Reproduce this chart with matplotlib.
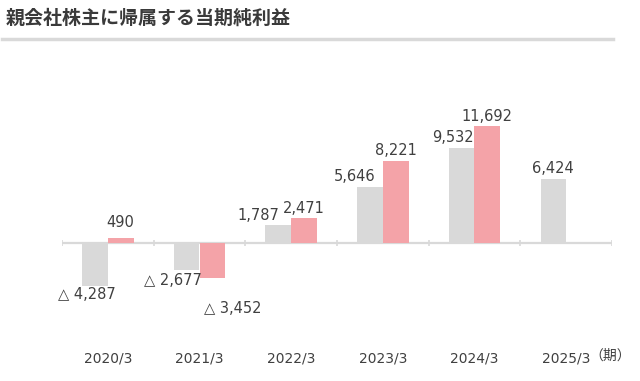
import matplotlib.pyplot as plt
import numpy as np
from matplotlib.lines import Line2D

plt.rcParams['font.family'] = ['DejaVu Sans', 'Noto Sans CJK JP']

# データ
periods = ['2020/3', '2021/3', '2022/3', '2023/3', '2024/3', '2025/3']
gray_vals = [-4287, -2677, 1787, 5646, 9532, 6424]
pink_vals = [490, -3452, 2471, 8221, 11692, np.nan]
title = '親会社株主に帰属する当期純利益'
unit_label = '（期）'

# ラベルの位置調整 (px)
gray_dx = [-8, -14, -20, -15, -9, 0]
pink_dx = [0, 20, 0, 0, 0, 0]
pink_dy = [16, 31, 10, 10, 10, 10]
gray_dy = [9, 11, 10, 10, 10, 10]

gray_c = '#d9d9d9'
pink_c = '#f4a3a8'
text_c = '#404040'

W, H = 640, 381
fig = plt.figure(figsize=(6.4, 3.81), dpi=100)
ax = fig.add_axes([62 / W, 41 / H, 550 / W, 227 / H])

x = np.arange(len(periods))
w = 0.28
ax.bar(x - w / 2, gray_vals, w, color=gray_c, zorder=2)
ax.bar(x + w / 2, pink_vals, w, color=pink_c, zorder=2)

ax.set_xlim(-0.5, len(periods) - 0.5)
ax.set_ylim(-9700, 13000)

# 基準線と区切り
ax.axhline(0, color=gray_c, lw=1.6, zorder=1)
ax.vlines(np.arange(len(periods) + 1) - 0.5, -300, 300, color=gray_c, lw=1.2, zorder=1)


def fmt(v):
    return f'△ {abs(v):,.0f}' if v < 0 else f'{v:,.0f}'


def put(xc, v, dx, dy):
    if np.isnan(v):
        return
    sign = 1 if v >= 0 else -1
    ax.annotate(fmt(v), (xc, v), xytext=(dx * 0.72, sign * dy * 0.72), textcoords='offset points',
                ha='center', va='center', fontsize=10.5, color=text_c)


for i in range(len(periods)):
    put(x[i] - w / 2, gray_vals[i], gray_dx[i], gray_dy[i])
    put(x[i] + w / 2, pink_vals[i], pink_dx[i], pink_dy[i])

ax.set_xticks(x)
ax.set_xticklabels(periods, fontsize=10, color=text_c)
ax.tick_params(axis='x', length=0, pad=8)
ax.set_yticks([])
for s in ax.spines.values():
    s.set_visible(False)

fig.text(631 / W, 1 - 356 / H, unit_label, fontsize=10, color=text_c, ha='right', va='center',
         family=['Noto Sans CJK JP'])

# タイトル
fig.text(6 / W, 1 - 18 / H, title, fontsize=13.7, fontweight='bold', color='#3a3a3a',
         ha='left', va='center', family=['Noto Sans CJK JP'])
fig.add_artist(Line2D([2 / W, 613 / W], [1 - 38.5 / H, 1 - 38.5 / H], color='#d9d9d9', lw=2.5))

fig.savefig('out.png', dpi=100)
